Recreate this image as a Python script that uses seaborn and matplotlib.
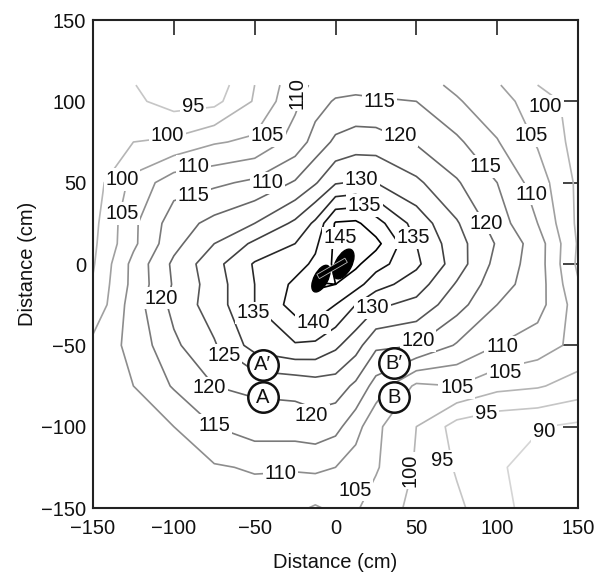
import numpy as np
import pandas as pd
import matplotlib
matplotlib.use("Agg")
import matplotlib.pyplot as plt
import seaborn as sns
from matplotlib.patches import Ellipse, Rectangle

# measurement grid (cm)
x_cm = [-150, -125, -100, -75, -50, -25, -12.5, 0, 12.5, 25, 50, 75, 100, 125, 150]
y_cm = [110, 100, 75, 50, 25, 12.5, 0, -12.5, -25, -50, -75, -100, -125, -150]

# levels, one row per y (top to bottom)
row_110 = [96, 95.2, 92, 92, 100, 108, 111, 113, 113.5, 113.5, 112, 109, 105.5, 100, 97]
row_100 = [96, 96, 93, 93.5, 100.5, 109, 113, 115.5, 116, 115.5, 115, 110.5, 107, 102.5, 98]
row_75 = [96.5, 100, 101, 104.5, 106, 112, 117, 121, 122.5, 122.5, 119.5, 116, 110.3, 104.5, 98]
row_50 = [97.5, 106.5, 113, 114, 116, 120.5, 124.5, 129.5, 130.5, 130, 126, 120.5, 115, 107.5, 99]
row_25 = [98.5, 109, 117.5, 121.5, 125, 131, 136, 145.5, 146, 142, 133, 125.5, 117.5, 110, 99]
row_12 = [99, 109, 118.5, 125, 131, 135, 139, 146, 148, 146.5, 135, 127, 119.5, 112.5, 99.5]
row_0 = [99.5, 111.5, 121, 128.3, 135.5, 138, 141, 146, 146, 142, 136, 127.5, 118.3, 112.5, 99]
row_m12 = [100.5, 111.5, 120.5, 127.5, 135, 141, 145.5, 145, 142, 137, 132.5, 124.5, 117, 112.5, 100.5]
row_m25 = [101, 112.5, 121.5, 127.5, 135, 142, 143.5, 140, 135, 131, 128.5, 122, 115, 112, 102.5]
row_m50 = [106.5, 111.5, 119, 124.5, 132, 134.5, 134, 131, 127, 121, 120, 114.5, 110, 107.5, 103.5]
row_m75 = [106.5, 110, 115.5, 120, 121, 121.5, 122.5, 122.5, 119, 113, 104, 105, 101.5, 100.5, 98]
row_m100 = [106.5, 108, 110, 115, 117.5, 117.5, 118, 116.5, 112, 106, 100, 93, 91, 90.3, 89]
row_m125 = [106, 107, 108.5, 109.5, 110.5, 110.5, 111, 110, 107.5, 105.5, 99.5, 94.5, 90.5, 88.5, 87]
row_m150 = [105.5, 106, 107, 107.5, 107.5, 106, 104.5, 106, 105.5, 103, 98.5, 96, 91.5, 88, 86]

levels = [90, 95, 100, 105, 110, 115, 120, 125, 130, 135, 140, 145]

# contour labels as printed on the figure
lab_text = ["95", "110", "100", "105", "110", "110", "100", "115", "105",
            "115", "120", "100", "105", "115", "110", "120", "130", "135",
            "135", "145", "120", "135", "140", "130", "125", "120", "120",
            "115", "110", "105", "100", "95", "120", "110", "105", "105",
            "95", "90"]
lab_x = [-88, -24, -104, -42, -88, -42, -132, -88, -132,
         27, 40, 130, 121, 93, 121, 93, 16, 18,
         48, 3, -108, -51, -14, 23, -69, -78, -15,
         -75, -34, 12, 46, 66, 51, 103, 105, 75,
         93, 129]
lab_y = [97, 105, 79, 79, 60, 50, 52, 42, 31,
         100, 79, 97, 79, 60, 43, 25, 52, 36,
         16, 16, -21, -30, -36, -27, -56, -76, -93,
         -99, -129, -139, -127, -121, -47, -51, -67, -76,
         -92, -103]
lab_rot = [0, 90] + [0] * 28 + [90] + [0] * 7

# marked positions
pt_name = ["A\u2032", "A", "B\u2032", "B"]
pt_x = [-45, -45, 36, 36]
pt_y = [-62, -82, -61, -82]

# the source object in the middle
blob_x = [-9, 5]
blob_y = [-9, 0]
blob_w = [8.5, 10]
blob_h = [18, 20]

grid = np.array([row_110, row_100, row_75, row_50, row_25, row_12, row_0,
                 row_m12, row_m25, row_m50, row_m75, row_m100, row_m125, row_m150])
Z = np.flipud(grid)
Y = np.array(y_cm)[::-1]
X = np.array(x_cm)

sns.set_theme(style="white")
plt.rcParams['font.family'] = ['Liberation Sans', 'DejaVu Sans']

fig = plt.figure(figsize=(6.06, 5.79), dpi=100)
ax = fig.add_axes([93 / 606, 1 - 508 / 579, 485 / 606, 488 / 579])

ax.contour(X, Y, Z, levels=levels, cmap="Greys",
           norm=plt.Normalize(70, 145), linewidths=1.2, zorder=1)

for t, lx, ly, r in zip(lab_text, lab_x, lab_y, lab_rot):
    ax.text(lx, ly, t, fontsize=14.5, ha="center", va="center", rotation=r,
            color="#111111", zorder=3,
            bbox=dict(boxstyle="square,pad=0.08", fc="white", ec="none"))

for bx, by, bw, bh in zip(blob_x, blob_y, blob_w, blob_h):
    ax.add_patch(Ellipse((bx, by), bw, bh, angle=-28, color="black", zorder=4))
ax.add_patch(Rectangle((-10, -9), 20, 3, angle=30, facecolor="black",
                       edgecolor="#bbbbbb", linewidth=0.6, zorder=5))

pts = pd.DataFrame({"x": pt_x, "y": pt_y, "name": pt_name})
sns.scatterplot(data=pts, x="x", y="y", s=480, color="white", edgecolor="#111111",
                linewidth=1.8, ax=ax, zorder=6, legend=False)
for _, p in pts.iterrows():
    ax.text(p["x"], p["y"], p["name"], fontsize=14.5, ha="center", va="center",
            color="#111111", zorder=7)

ax.set_xlim(-150, 150)
ax.set_ylim(-150, 150)
ax.set_xticks(range(-150, 151, 50))
ax.set_yticks(range(-150, 151, 50))
ax.tick_params(direction="in", length=11, width=1.1, top=True, right=True,
               labelsize=14.5, colors="#111111")
ax.tick_params(axis="x", pad=8)
ax.tick_params(axis="y", pad=5)
ax.set_xlabel("Distance (cm)", fontsize=14.5, labelpad=11, color="#111111")
ax.set_ylabel("Distance (cm)", fontsize=14.5, labelpad=3, color="#111111")
for s in ax.spines.values():
    s.set_linewidth(1.5)
    s.set_color("#222222")

fig.savefig("out.png", dpi=100)
